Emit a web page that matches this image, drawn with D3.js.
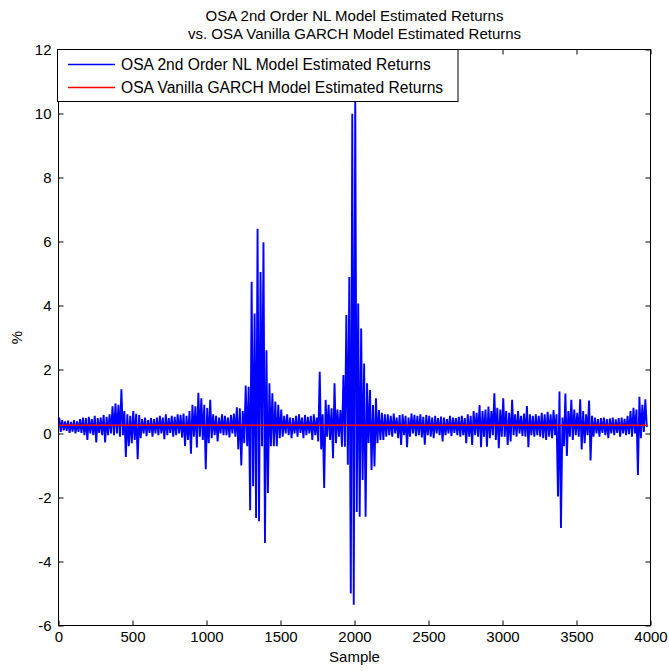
<!DOCTYPE html>
<html><head><meta charset="utf-8">
<script src="https://cdn.jsdelivr.net/npm/d3@7"></script>
<style>
body{margin:0;background:#fff}
svg{display:block}
text{font-family:Arial,"Liberation Sans",Helvetica,sans-serif;fill:#000}
</style>
</head><body><div id="chart"></div>
<script>
// ---------------- data ----------------
const titleLines = ["OSA 2nd Order NL Model Estimated Returns", "vs. OSA Vanilla GARCH Model Estimated Returns"];
const legendLabels = ["OSA 2nd Order NL Model Estimated Returns", "OSA Vanilla GARCH Model Estimated Returns"];
const xLabel = "Sample";
const yLabel = "%";
const xTicks = [0, 500, 1000, 1500, 2000, 2500, 3000, 3500, 4000];
const yTicks = [-6, -4, -2, 0, 2, 4, 6, 8, 10, 12];
const binSize = 20; // samples per bin; each bin stores its high and low estimated return (%)
const nlHigh = [
 0.5,0.42,0.38,0.4,0.36,0.42,0.38,0.45,0.5,0.48,
 0.52,0.45,0.55,0.48,0.5,0.58,0.52,0.6,
 0.85,0.94,0.9,1.38,0.7,
 0.6,0.55,0.7,0.62,0.58,
 0.45,0.5,0.42,0.48,0.45,0.5,
 0.55,0.5,0.6,0.48,0.55,0.52,0.6,0.58,0.62,0.55,
 0.7,0.9,0.85,1.27,1.1,0.9,0.8,1.05,
 0.6,0.55,0.5,0.6,0.55,0.5,0.58,0.62,
 0.82,0.79,0.7,
 1.5,1.46,4.74,3.75,6.4,5.05,5.98,2.6,1.57,1.26,
 1.0,0.9,0.75,
 0.55,0.6,0.5,0.48,0.55,0.6,0.5,0.58,0.52,0.55,0.6,0.5,
 1.93,0.6,1.05,0.9,0.79,
 1.57,0.75,0.73,
 1.83,3.7,4.89,9.99,10.6,4.06,3.28,2.19,1.57,1.36,0.89,1.1,0.73,0.65,0.6,
 0.6,0.55,0.62,0.5,0.58,0.6,0.55,0.5,0.62,0.58,0.55,0.6,0.52,0.58,0.55,
 0.5,0.55,0.48,0.53,0.5,0.45,0.55,0.5,0.48,0.52,0.55,0.48,
 0.6,0.55,0.7,0.65,0.89,0.7,0.75,0.84,0.7,1.26,0.8,0.75,
 1.1,0.7,0.65,1.05,0.6,0.7,0.55,0.62,0.86,0.6,0.55,
 0.6,0.55,0.65,0.6,0.68,0.6,0.73,
 0.6,1.31,0.5,
 1.25,0.7,1.05,0.75,0.65,1.07,0.7,0.6,1.03,0.55,
 0.5,0.45,0.48,0.5,0.45,0.47,0.5,0.44,0.48,0.5,0.46,0.55,
 0.7,0.8,0.75,1.15,0.9,1.07
];
const nlLow = [
 0.05,0.1,0.08,0.02,0.06,0.0,0.05,0.02,-0.05,-0.2,
 0.0,-0.05,-0.28,0.02,-0.05,-0.28,-0.05,0.0,
 -0.05,0.0,-0.1,-0.05,-0.73,
 -0.4,-0.3,-0.2,-0.8,-0.15,
 0.0,-0.08,0.02,-0.1,0.0,-0.05,
 0.0,-0.18,-0.05,0.02,-0.1,-0.05,0.0,-0.12,-0.39,-0.2,
 -0.63,-0.1,-0.44,-0.1,-0.2,-1.12,-0.3,-0.15,
 -0.05,-0.25,0.0,-0.05,-0.05,-0.12,0.0,-0.1,
 -0.5,-1.0,-0.3,
 -0.4,-2.4,-1.65,-2.64,-2.74,-0.4,-3.42,-1.86,-0.4,-0.4,
 -0.4,-0.15,-0.1,
 0.0,-0.05,-0.15,0.0,-0.1,0.02,-0.15,-0.05,0.0,-0.2,-0.05,-0.25,
 -0.5,-1.7,-0.1,-0.2,-0.77,
 -0.3,-0.1,-0.41,
 -0.41,-0.98,-5.0,-5.35,-2.45,-2.6,-1.45,-2.6,-0.3,-1.14,-1.03,-0.3,-0.2,-0.2,-0.1,
 -0.05,-0.1,0.0,-0.15,-0.36,-0.05,-0.43,-0.1,0.0,-0.08,-0.05,-0.12,-0.35,-0.05,-0.1,
 -0.15,0.0,-0.05,-0.25,-0.05,0.0,-0.08,0.02,-0.05,-0.1,-0.05,-0.3,
 -0.1,-0.36,-0.05,-0.1,-0.43,-0.1,-0.41,-0.15,-0.05,-0.2,-0.46,-0.1,
 -0.1,-0.36,-0.25,-0.05,-0.1,0.0,-0.08,-0.1,-0.43,-0.05,-0.1,
 -0.05,-0.1,-0.15,-0.2,-0.1,-0.15,-0.05,
 -1.97,-2.95,-0.4,
 -0.7,-0.1,-0.2,-0.05,-0.1,-0.5,-0.3,-0.05,-0.84,-0.1,
 0.0,-0.1,0.02,-0.05,-0.15,0.0,-0.05,0.02,-0.1,0.0,-0.05,-0.02,
 -0.1,0.0,-1.3,-0.15,0.05,0.2
];
const garchSamples = [1, 3980];
const garchValues = [0.26, 0.26];
const seriesColors = ["#0000ff", "#ff0000"];

// ---------------- layout ----------------
const W = 669, H = 671;
const margin = {left: 58.5, right: 18.5, top: 49.5, bottom: 45.5};
const iw = W - margin.left - margin.right, ih = H - margin.top - margin.bottom;

const svg = d3.select("#chart").append("svg").attr("width", W).attr("height", H);
const x = d3.scaleLinear().domain([0, 4000]).range([margin.left, margin.left + iw]);
const y = d3.scaleLinear().domain([-6, 12]).range([margin.top + ih, margin.top]);

svg.append("defs").append("clipPath").attr("id", "clip")
  .append("rect").attr("x", margin.left).attr("y", margin.top).attr("width", iw).attr("height", ih);

// NL series: expand bins into high/low sample points
const nlPoints = [];
nlHigh.forEach((h, i) => {
  nlPoints.push([i * binSize + binSize * 0.25, h]);
  nlPoints.push([i * binSize + binSize * 0.75, nlLow[i]]);
});
const line = d3.line().x(d => x(d[0])).y(d => y(d[1]));
const plot = svg.append("g").attr("clip-path", "url(#clip)");
plot.append("path").datum(nlPoints).attr("d", line)
  .attr("fill", "none").attr("stroke", seriesColors[0]).attr("stroke-width", 1.9)
  .attr("stroke-linejoin", "miter").attr("stroke-miterlimit", 2);
plot.append("path").datum(garchSamples.map((s, i) => [s, garchValues[i]])).attr("d", line)
  .attr("fill", "none").attr("stroke", seriesColors[1]).attr("stroke-width", 1.5);

// axes (MATLAB style: ticks inward on all four sides)
const fs = 15;
const tickLen = 5;
const fmt = d => String(d);
const axB = svg.append("g").attr("transform", `translate(0,${margin.top + ih})`)
  .call(d3.axisBottom(x).tickValues(xTicks).tickSize(-tickLen).tickPadding(8).tickFormat(fmt));
const axT = svg.append("g").attr("transform", `translate(0,${margin.top})`)
  .call(d3.axisTop(x).tickValues(xTicks).tickSize(-tickLen).tickFormat(""));
const axL = svg.append("g").attr("transform", `translate(${margin.left},0)`)
  .call(d3.axisLeft(y).tickValues(yTicks).tickSize(-tickLen).tickPadding(7).tickFormat(fmt));
const axR = svg.append("g").attr("transform", `translate(${margin.left + iw},0)`)
  .call(d3.axisRight(y).tickValues(yTicks).tickSize(-tickLen).tickFormat(""));
[axB, axT, axL, axR].forEach(g => {
  g.select(".domain").remove();
  g.selectAll(".tick line").attr("stroke", "#000");
  g.selectAll("text").attr("font-size", fs).attr("font-family", "Arial, 'Liberation Sans', sans-serif").attr("fill", "#000");
});
axB.selectAll(".tick text").attr("dy", "0.55em");
axL.selectAll(".tick text").attr("dy", "0.35em");

svg.append("rect").attr("x", margin.left).attr("y", margin.top).attr("width", iw).attr("height", ih)
  .attr("fill", "none").attr("stroke", "#000").attr("stroke-width", 1);

// labels
svg.append("text").attr("x", x(2000)).attr("y", 662).attr("text-anchor", "middle").attr("font-size", fs).text(xLabel);
svg.append("text").attr("transform", `translate(22,${y(3)}) rotate(-90)`).attr("text-anchor", "middle").attr("font-size", fs).text(yLabel);

// title
titleLines.forEach((t, i) => {
  svg.append("text").attr("x", x(2000)).attr("y", 21 + i * 17.5).attr("text-anchor", "middle").attr("font-size", fs).text(t);
});

// legend
const lg = svg.append("g");
lg.append("rect").attr("x", 57.5).attr("y", 49.5).attr("width", 400.5).attr("height", 52)
  .attr("fill", "#fff").attr("stroke", "#000").attr("stroke-width", 1);
legendLabels.forEach((t, i) => {
  const yy = 64.5 + i * 23;
  lg.append("line").attr("x1", 68).attr("x2", 115).attr("y1", yy).attr("y2", yy)
    .attr("stroke", seriesColors[i]).attr("stroke-width", 1.5);
  lg.append("text").attr("x", 121).attr("y", yy).attr("dy", "0.36em").attr("font-size", 15.6).text(t);
});
</script>
</body></html>
